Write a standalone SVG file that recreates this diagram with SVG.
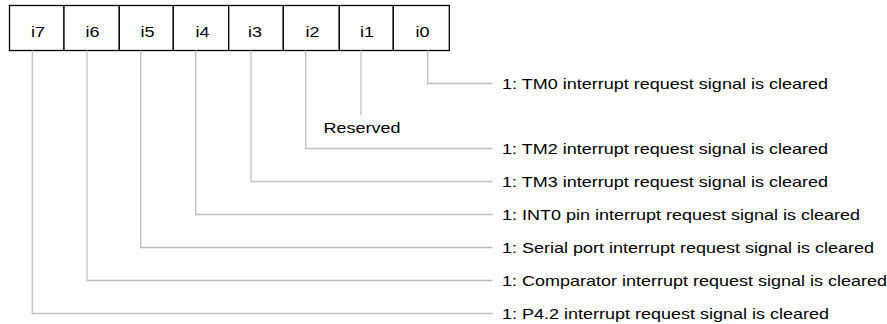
<svg xmlns="http://www.w3.org/2000/svg" width="887" height="324" viewBox="0 0 887 324">
<style>
.cell{fill:#fff;stroke:#000;stroke-width:1.3}
.t{font-family:"Liberation Sans",Arial,sans-serif;font-size:15px;fill:#000}
.c{text-anchor:middle}
.w{fill:none;stroke:#c0c0c0;stroke-width:1.3}
</style>
<rect width="887" height="324" fill="#fff"/>
<g id="register">
<g id="b7"><rect class="cell" x="9.5" y="5.5" width="54.5" height="45"/><text class="t c" x="38" y="37" textLength="14" lengthAdjust="spacingAndGlyphs">i7</text></g>
<g id="b6"><rect class="cell" x="64" y="5.5" width="55.3" height="45"/><text class="t c" x="92.5" y="37" textLength="14" lengthAdjust="spacingAndGlyphs">i6</text></g>
<g id="b5"><rect class="cell" x="119.3" y="5.5" width="54" height="45"/><text class="t c" x="147.5" y="37" textLength="14" lengthAdjust="spacingAndGlyphs">i5</text></g>
<g id="b4"><rect class="cell" x="173.3" y="5.5" width="55.4" height="45"/><text class="t c" x="202.5" y="37" textLength="14" lengthAdjust="spacingAndGlyphs">i4</text></g>
<g id="b3"><rect class="cell" x="228.7" y="5.5" width="54.6" height="45"/><text class="t c" x="255" y="37" textLength="14" lengthAdjust="spacingAndGlyphs">i3</text></g>
<g id="b2"><rect class="cell" x="283.3" y="5.5" width="56" height="45"/><text class="t c" x="312.5" y="37" textLength="14" lengthAdjust="spacingAndGlyphs">i2</text></g>
<g id="b1"><rect class="cell" x="339.3" y="5.5" width="54" height="45"/><text class="t c" x="367" y="37" textLength="14" lengthAdjust="spacingAndGlyphs">i1</text></g>
<g id="b0"><rect class="cell" x="393.3" y="5.5" width="56" height="45"/><text class="t c" x="422.5" y="37" textLength="14" lengthAdjust="spacingAndGlyphs">i0</text></g>
</g>
<g id="connectors">
<polyline class="w" points="427.7,50.5 427.7,83.5 492.5,83.5"/>
<polyline class="w" points="361,50.5 361,115"/>
<polyline class="w" points="305.7,50.5 305.7,148.5 492.5,148.5"/>
<polyline class="w" points="251,50.5 251,181.5 492.5,181.5"/>
<polyline class="w" points="195.7,50.5 195.7,214.5 492.5,214.5"/>
<polyline class="w" points="140.7,50.5 140.7,247.5 492.5,247.5"/>
<polyline class="w" points="87,50.5 87,280.5 492.5,280.5"/>
<polyline class="w" points="32.3,50.5 32.3,313.5 492.5,313.5"/>
</g>
<g id="labels">
<text class="t c" x="362" y="133" textLength="77" lengthAdjust="spacingAndGlyphs">Reserved</text>
<text class="t" x="502" y="89" textLength="326" lengthAdjust="spacingAndGlyphs">1: TM0 interrupt request signal is cleared</text>
<text class="t" x="502" y="154" textLength="326" lengthAdjust="spacingAndGlyphs">1: TM2 interrupt request signal is cleared</text>
<text class="t" x="502" y="187" textLength="326" lengthAdjust="spacingAndGlyphs">1: TM3 interrupt request signal is cleared</text>
<text class="t" x="502" y="220" textLength="358" lengthAdjust="spacingAndGlyphs">1: INT0 pin interrupt request signal is cleared</text>
<text class="t" x="502" y="253" textLength="372" lengthAdjust="spacingAndGlyphs">1: Serial port interrupt request signal is cleared</text>
<text class="t" x="502" y="286" textLength="385" lengthAdjust="spacingAndGlyphs">1: Comparator interrupt request signal is cleared</text>
<text class="t" x="502" y="319" textLength="327" lengthAdjust="spacingAndGlyphs">1: P4.2 interrupt request signal is cleared</text>
</g>
</svg>
